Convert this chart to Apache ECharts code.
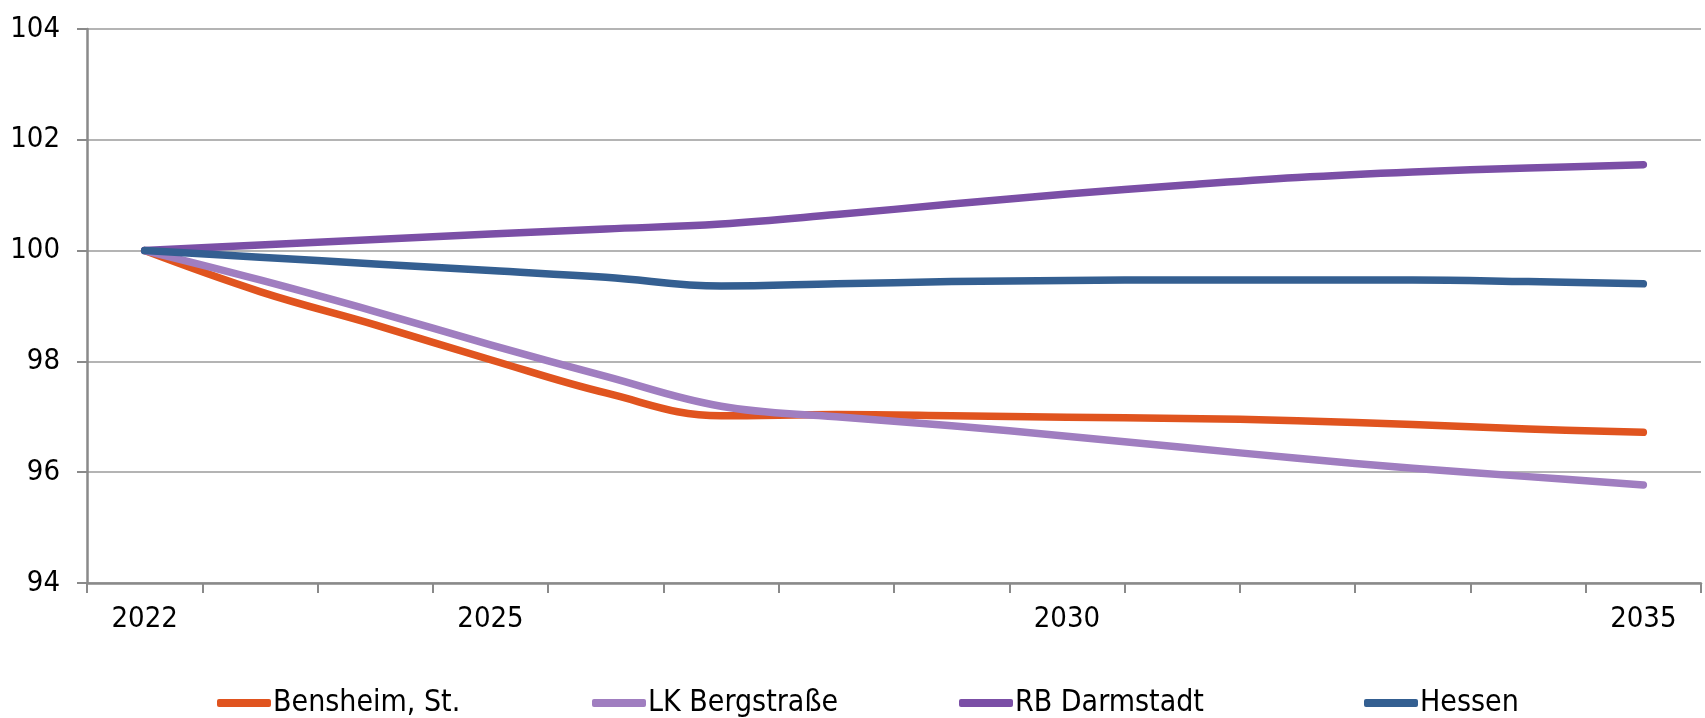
<!DOCTYPE html>
<html>
<head>
<meta charset="utf-8">
<script src="https://cdn.jsdelivr.net/npm/echarts@6/dist/echarts.min.js"></script>
<style>
html,body{margin:0;padding:0;background:#fff;}
#chart{width:1705px;height:718px;}
</style>
</head>
<body>
<div id="chart"></div>
<script>
const years = ['2022','2023','2024','2025','2026','2027','2028','2029','2030','2031','2032','2033','2034','2035'];
const shownYearLabels = ['2022','2025','2030','2035'];
const yTicks = [94, 96, 98, 100, 102, 104];
const seriesNames = ['Bensheim, St.', 'LK Bergstraße', 'RB Darmstadt', 'Hessen'];
const bensheim = [100, 99.26, 98.66, 98.03, 97.43, 97.02, 97.04, 97.02, 96.99, 96.97, 96.93, 96.86, 96.78, 96.72];
const lkBergstrasse = [100, 99.47, 98.90, 98.30, 97.73, 97.19, 97.00, 96.84, 96.65, 96.45, 96.25, 96.07, 95.92, 95.77];
const rbDarmstadt = [100, 100.10, 100.20, 100.30, 100.39, 100.48, 100.65, 100.84, 101.02, 101.18, 101.32, 101.42, 101.49, 101.55];
const hessen = [100, 99.88, 99.76, 99.64, 99.52, 99.36, 99.40, 99.44, 99.46, 99.47, 99.47, 99.47, 99.44, 99.40];
const colors = ['#E0541F', '#A07EC0', '#7B4FA6', '#345F91'];
const values = [bensheim, lkBergstrasse, rbDarmstadt, hessen];

const FONT = "'Liberation Sans Narrow', 'Arial Narrow', 'DejaVu Sans Condensed', sans-serif";
const legendLefts = [212, 587, 954, 1359];

const chart = echarts.init(document.getElementById('chart'), null, {renderer: 'canvas'});
chart.setOption({
  animation: false,
  backgroundColor: '#fff',
  grid: {left: 87, right: 4, top: 29, bottom: 135, containLabel: false},
  legend: seriesNames.map((n, i) => ({
    data: [n],
    left: legendLefts[i],
    top: 683,
    icon: 'roundRect',
    itemWidth: 54,
    itemHeight: 8,
    itemGap: 0,
    textStyle: {fontFamily: FONT, fontSize: 30, color: '#000', padding: [0, 0, 0, -3]}
  })),
  xAxis: {
    type: 'category',
    data: years,
    boundaryGap: true,
    axisLine: {lineStyle: {color: '#8a8a8a', width: 2.5}},
    axisTick: {show: true, length: 10, interval: 0, lineStyle: {color: '#8a8a8a', width: 2}},
    axisLabel: {
      interval: (idx, val) => shownYearLabels.indexOf(val) >= 0,
      fontFamily: FONT, fontSize: 29, color: '#000', margin: 22
    },
    splitLine: {show: false}
  },
  yAxis: {
    type: 'value',
    min: yTicks[0],
    max: yTicks[yTicks.length - 1],
    interval: 2,
    axisLine: {show: true, lineStyle: {color: '#8a8a8a', width: 2.5}},
    axisTick: {show: true, length: 10, inside: false, lineStyle: {color: '#8a8a8a', width: 2}},
    axisLabel: {fontFamily: FONT, fontSize: 29, color: '#000', margin: 27},
    splitLine: {show: true, lineStyle: {color: '#b4b4b4', width: 2}}
  },
  series: seriesNames.map((n, i) => ({
    name: n,
    type: 'line',
    data: values[i],
    smooth: 0.4,
    showSymbol: false,
    symbol: 'none',
    color: colors[i],
    lineStyle: {width: 7.5, color: colors[i], cap: 'round', join: 'round'}
  }))
});
</script>
</body>
</html>
